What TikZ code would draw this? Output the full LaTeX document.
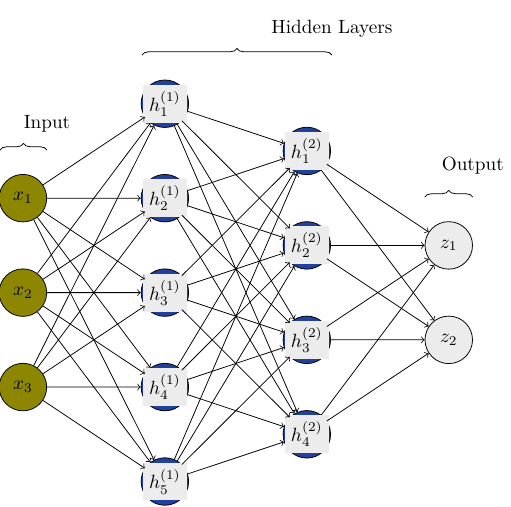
\documentclass[tikz,border=0pt]{standalone}
\usetikzlibrary{positioning,decorations.pathreplacing}
\definecolor{hiddenblue}{RGB}{35,65,155}
\tikzset{node distance=1.73cm, % vertical distance between two neurons of a layer
        input/.style={ % neurons of the input layer
            circle, draw, fill=olive,
            minimum size=0.87cm, inner sep=0pt},
        hidden/.style={ % neurons of the hidden layers
            circle, draw, fill=hiddenblue,
            minimum size=0.87cm, inner sep=0pt},
        hlabel/.style={fill=gray!15}, % box behind the hidden labels
        output/.style={ % neurons of the output layer
            circle, draw, fill=gray!15,
            minimum size=0.87cm, inner sep=0pt},
        layerbrace/.style={
            decorate,
            decoration={brace, amplitude=3.5pt}},
        every edge/.style={ % connections between the layers
            draw,
            ->}
        }

\begin{document}
\begin{tikzpicture}
    \useasboundingbox (-0.42,-5.64) rectangle (8.94,3.63);

    \node[input] (x1) at (0,0) {$x_1$};
    \node[input] (x2) [below of=x1] {$x_2$};
    \node[input] (x3) [below of=x2] {$x_3$};

    \node[hidden, label={[hlabel]center:$h^{(1)}_1$}] (h11) at (2.6,1.73) {};
    \node[hidden, label={[hlabel]center:$h^{(1)}_2$}] (h12) [below of=h11] {};
    \node[hidden, label={[hlabel]center:$h^{(1)}_3$}] (h13) [below of=h12] {};
    \node[hidden, label={[hlabel]center:$h^{(1)}_4$}] (h14) [below of=h13] {};
    \node[hidden, label={[hlabel]center:$h^{(1)}_5$}] (h15) [below of=h14] {};

    \node[hidden, label={[hlabel]center:$h^{(2)}_1$}] (h21) at (5.2,0.865) {};
    \node[hidden, label={[hlabel]center:$h^{(2)}_2$}] (h22) [below of=h21] {};
    \node[hidden, label={[hlabel]center:$h^{(2)}_3$}] (h23) [below of=h22] {};
    \node[hidden, label={[hlabel]center:$h^{(2)}_4$}] (h24) [below of=h23] {};

    \node[output] (z1) at (7.8,-0.865) {$z_1$};
    \node[output] (z2) [below of=z1] {$z_2$};

    \draw
        (x1)
            edge (h11) edge (h12) edge (h13) edge (h14) edge (h15)
        (x2)
            edge (h11) edge (h12) edge (h13) edge (h14) edge (h15)
        (x3)
            edge (h11) edge (h12) edge (h13) edge (h14) edge (h15)
        (h11)
            edge (h21) edge (h22) edge (h23) edge (h24)
        (h12)
            edge (h21) edge (h22) edge (h23) edge (h24)
        (h13)
            edge (h21) edge (h22) edge (h23) edge (h24)
        (h14)
            edge (h21) edge (h22) edge (h23) edge (h24)
        (h15)
            edge (h21) edge (h22) edge (h23) edge (h24)
        (h21)
            edge (z1) edge (z2)
        (h22)
            edge (z1) edge (z2)
        (h23)
            edge (z1) edge (z2)
        (h24)
            edge (z1) edge (z2);

    % braces over the layers
    \draw[layerbrace] (-0.42,0.88) -- (0.44,0.88) node[above=0.2cm] {Input};
    \draw[layerbrace] (2.18,2.62) -- (5.66,2.62) node[above=0.2cm] {Hidden Layers};
    \draw[layerbrace] (7.36,0.02) -- (8.24,0.02) node[above=0.3cm] {Output};
\end{tikzpicture}
\end{document}
